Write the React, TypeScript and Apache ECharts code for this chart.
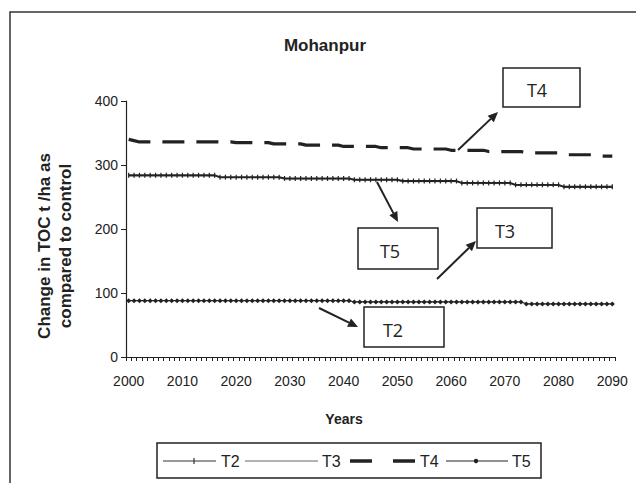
import React, { useEffect, useRef } from "react";
import * as echarts from "echarts";

const years = [
  "2000","2001","2002","2003","2004","2005","2006","2007","2008","2009",
  "2010","2011","2012","2013","2014","2015","2016","2017","2018","2019",
  "2020","2021","2022","2023","2024","2025","2026","2027","2028","2029",
  "2030","2031","2032","2033","2034","2035","2036","2037","2038","2039",
  "2040","2041","2042","2043","2044","2045","2046","2047","2048","2049",
  "2050","2051","2052","2053","2054","2055","2056","2057","2058","2059",
  "2060","2061","2062","2063","2064","2065","2066","2067","2068","2069",
  "2070","2071","2072","2073","2074","2075","2076","2077","2078","2079",
  "2080","2081","2082","2083","2084","2085","2086","2087","2088","2089",
  "2090",
];

const T2 = [
  88,88,88,88,88,88,88,88,88,88,
  88,88,88,88,88,88,88,88,88,88,
  88,88,88,88,88,88,88,88,88,88,
  88,88,88,88,88,88,88,88,88,88,
  88,88,86,86,86,86,86,86,86,86,
  86,86,86,86,86,86,86,86,86,86,
  86,86,86,86,86,86,86,86,86,86,
  86,86,86,86,83,83,83,83,83,83,
  83,83,83,83,83,83,83,83,83,83,
  83,
];

const T3 = [
  283,283,283,283,283,283,283,283,283,283,
  283,283,283,283,283,283,283,280,280,280,
  280,280,280,280,280,280,280,280,280,278,
  278,278,278,278,278,278,278,278,278,278,
  278,278,276,276,276,276,276,276,276,276,
  276,274,274,274,274,274,274,274,274,274,
  274,274,271,271,271,271,271,271,271,271,
  271,271,268,268,268,268,268,268,268,268,
  268,265,265,265,265,265,265,265,265,265,
  265,
];

const T4 = [
  340,338,336,336,336,336,336,336,336,336,
  336,336,336,336,336,336,336,336,336,336,
  335,335,335,335,335,335,335,333,333,333,
  333,333,333,331,331,331,331,331,331,331,
  329,329,329,329,329,329,329,327,327,327,
  327,327,327,325,325,325,325,325,325,325,
  323,323,323,323,323,323,323,321,321,321,
  321,321,321,321,319,319,319,319,319,319,
  319,316,316,316,316,316,316,316,314,314,
  314,
];

const T5 = [
  284,284,284,284,284,284,284,284,284,284,
  284,284,284,284,284,284,284,281,281,281,
  281,281,281,281,281,281,281,281,281,279,
  279,279,279,279,279,279,279,279,279,279,
  279,279,277,277,277,277,277,277,277,277,
  277,275,275,275,275,275,275,275,275,275,
  275,275,272,272,272,272,272,272,272,272,
  272,272,269,269,269,269,269,269,269,269,
  269,266,266,266,266,266,266,266,266,266,
  266,
];

const seriesNames = ["T2", "T3", "T4", "T5"];
const yTicks = { min: 0, max: 400, interval: 100 };

const FONT = "'Liberation Sans', Arial, sans-serif";
const INK = "#222";

function arrow(x1: number, y1: number, x2: number, y2: number) {
  const dx = x2 - x1;
  const dy = y2 - y1;
  const len = Math.sqrt(dx * dx + dy * dy);
  const ux = dx / len;
  const uy = dy / len;
  const hl = 10;
  const hw = 4.5;
  const bx = x2 - ux * hl;
  const by = y2 - uy * hl;
  return [
    {
      type: "line",
      shape: { x1, y1, x2: bx, y2: by },
      style: { stroke: INK, lineWidth: 2 },
    },
    {
      type: "polygon",
      shape: {
        points: [
          [x2, y2],
          [bx - uy * hw, by + ux * hw],
          [bx + uy * hw, by - ux * hw],
        ],
      },
      style: { fill: INK },
    },
  ];
}

function labelBox(x: number, y: number, w: number, h: number, text: string, tx: number, ty: number) {
  return [
    {
      type: "rect",
      shape: { x, y, width: w, height: h },
      style: { fill: "#fff", stroke: INK, lineWidth: 1.5 },
    },
    {
      type: "text",
      x: tx,
      y: ty,
      style: {
        text,
        fill: INK,
        font: "18px 'Open Sans', sans-serif",
        textAlign: "center",
        textVerticalAlign: "middle",
      },
    },
  ];
}

function legendText(x: number, text: string) {
  return {
    type: "text",
    x,
    y: 461,
    style: {
      text,
      fill: INK,
      font: `16px ${FONT}`,
      textAlign: "left",
      textVerticalAlign: "middle",
    },
  };
}

export default function App() {
  const ref = useRef<HTMLDivElement>(null);
  useEffect(() => {
    if (!ref.current) return;
    const chart = echarts.init(ref.current, null, { renderer: "svg" });
    chart.setOption({
      animation: false,
      backgroundColor: "#fff",
      grid: { left: 126, right: 21, top: 101, bottom: 126, containLabel: false },
      xAxis: {
        type: "category",
        data: years,
        boundaryGap: true,
        axisLine: { lineStyle: { color: INK, width: 1.2 } },
        axisTick: { show: true, interval: 0, length: 4, lineStyle: { color: INK } },
        axisLabel: { interval: 9, margin: 17, fontFamily: FONT, fontSize: 14, color: INK },
        splitLine: { show: false },
      },
      yAxis: {
        type: "value",
        min: yTicks.min,
        max: yTicks.max,
        interval: yTicks.interval,
        axisLine: { show: true, lineStyle: { color: INK, width: 1.2 } },
        axisTick: { show: true, length: 5, lineStyle: { color: INK } },
        axisLabel: { margin: 8, fontFamily: FONT, fontSize: 14, color: INK },
        splitLine: { show: false },
      },
      series: [
        {
          name: seriesNames[0],
          type: "line",
          data: T2,
          symbol: "diamond",
          symbolSize: 5,
          showSymbol: true,
          showAllSymbol: true,
          color: INK,
          lineStyle: { color: INK, width: 1.2 },
          itemStyle: { color: INK },
        },
        {
          name: seriesNames[1],
          type: "line",
          data: T3,
          symbol: "none",
          color: "#555",
          lineStyle: { color: "#555", width: 1 },
        },
        {
          name: seriesNames[2],
          type: "line",
          data: T4,
          symbol: "none",
          color: INK,
          lineStyle: { color: INK, width: 3.2, type: [22, 12] },
        },
        {
          name: seriesNames[3],
          type: "line",
          data: T5,
          symbol: "rect",
          symbolSize: [1.2, 5],
          showSymbol: true,
          showAllSymbol: true,
          color: INK,
          lineStyle: { color: INK, width: 1.8 },
          itemStyle: { color: INK },
        },
      ],
      graphic: [
        {
          type: "rect",
          shape: { x: 10, y: 12, width: 640, height: 480 },
          style: { fill: "none", stroke: "#333", lineWidth: 1.5 },
          silent: true,
        },
        {
          type: "text",
          x: 325,
          y: 45,
          style: {
            text: "Mohanpur",
            fill: INK,
            font: `bold 17px ${FONT}`,
            textAlign: "center",
            textVerticalAlign: "middle",
          },
        },
        {
          type: "text",
          x: 344,
          y: 419,
          style: {
            text: "Years",
            fill: INK,
            font: `bold 14px ${FONT}`,
            textAlign: "center",
            textVerticalAlign: "middle",
          },
        },
        {
          type: "text",
          x: 55,
          y: 246,
          rotation: Math.PI / 2,
          style: {
            text: "Change in TOC t /ha as\ncompared to control",
            fill: INK,
            font: `bold 17px ${FONT}`,
            lineHeight: 21,
            textAlign: "center",
            textVerticalAlign: "middle",
          },
        },
        // legend box
        {
          type: "rect",
          shape: { x: 157, y: 443, width: 384, height: 35 },
          style: { fill: "#fff", stroke: INK, lineWidth: 1.5 },
        },
        {
          type: "line",
          shape: { x1: 163, y1: 461, x2: 216, y2: 461 },
          style: { stroke: "#333", lineWidth: 1 },
        },
        {
          type: "line",
          shape: { x1: 194, y1: 458, x2: 194, y2: 464 },
          style: { stroke: "#333", lineWidth: 1.2 },
        },
        legendText(221, seriesNames[0]),
        {
          type: "line",
          shape: { x1: 245, y1: 461, x2: 318, y2: 461 },
          style: { stroke: "#666", lineWidth: 1 },
        },
        legendText(322, seriesNames[1]),
        {
          type: "line",
          shape: { x1: 350, y1: 461, x2: 372, y2: 461 },
          style: { stroke: INK, lineWidth: 3.5 },
        },
        {
          type: "line",
          shape: { x1: 393, y1: 461, x2: 415, y2: 461 },
          style: { stroke: INK, lineWidth: 3.5 },
        },
        legendText(420, seriesNames[2]),
        {
          type: "line",
          shape: { x1: 446, y1: 461, x2: 508, y2: 461 },
          style: { stroke: INK, lineWidth: 1.2 },
        },
        {
          type: "circle",
          shape: { cx: 476, cy: 461, r: 2.2 },
          style: { fill: INK },
        },
        legendText(512, seriesNames[3]),
        ...labelBox(503, 68, 77, 39, "T4", 537, 90),
        ...arrow(458, 150, 498, 112),
        ...labelBox(358, 228, 80, 41, "T5", 390, 251),
        ...arrow(377, 182, 398, 222),
        ...labelBox(477, 208, 75, 40, "T3", 505, 231),
        ...arrow(437, 279, 476, 241),
        ...labelBox(364, 307, 80, 40, "T2", 393, 330),
        ...arrow(319, 308, 358, 327),
      ],
    });
    return () => chart.dispose();
  }, []);
  return (
    <div
      ref={ref}
      style={{ position: "fixed", left: 0, top: 0, width: 636, height: 483 }}
    />
  );
}
